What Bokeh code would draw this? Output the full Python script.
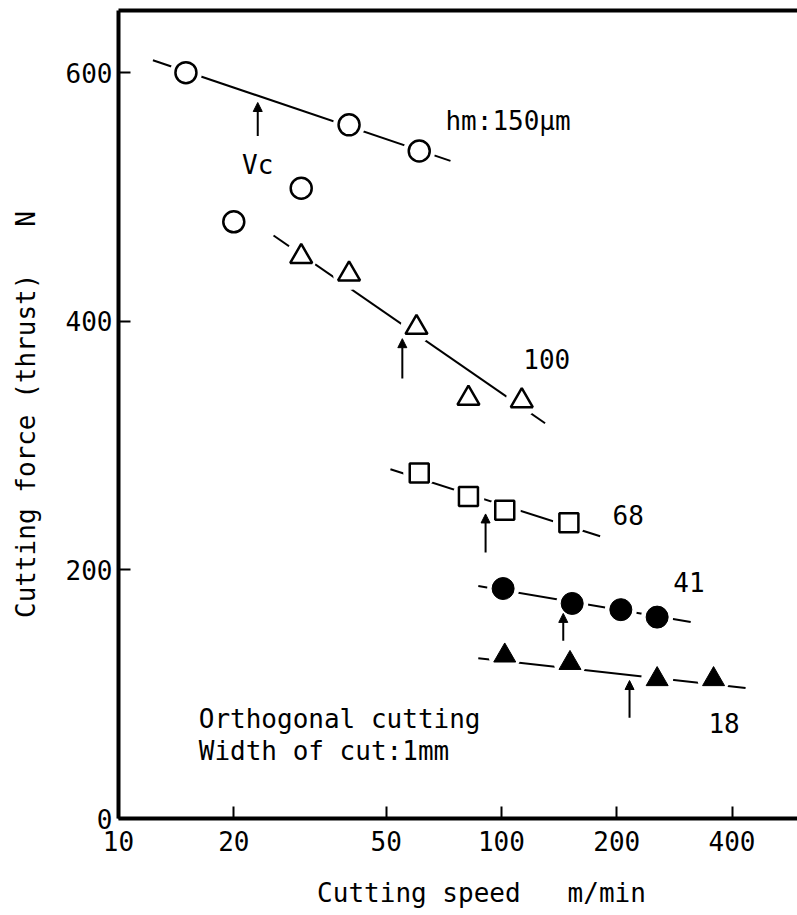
from bokeh.plotting import figure
from bokeh.models import (Range1d, FixedTicker, NumeralTickFormatter, LinearAxis,
                          ColumnDataSource, Arrow, NormalHead)
from bokeh.core.properties import value
from bokeh.embed import file_html
from bokeh.resources import INLINE

FONT = "DejaVu Sans Mono"
NB = "\u00a0"

# ---- data ----
hm150_speed = [15, 40, 61]
hm150_force = [600, 558, 537]
hm150_trans_speed = [20, 30]
hm150_trans_force = [480, 507]
hm100_speed = [30, 40, 60, 82, 113]
hm100_force = [452, 438, 395, 338, 336]
hm68_speed = [61, 82, 102, 150]
hm68_force = [278, 259, 248, 238]
hm41_speed = [101, 153, 205, 255]
hm41_force = [185, 173, 168, 162]
hm18_speed = [102, 151, 255, 358]
hm18_force = [131, 125, 112, 112]

# fitted trend lines (end points)
hm150_fit_speed = [12.3, 73.6]
hm150_fit_force = [610, 529]
hm100_fit_speed = [25.4, 130]
hm100_fit_force = [469, 318]
hm68_fit_speed = [51.3, 181]
hm68_fit_force = [281, 227]
hm41_fit_speed = [87, 312]
hm41_fit_force = [187, 158]
hm18_fit_speed = [87, 434]
hm18_fit_force = [129, 105]

# critical speed arrows
vc_speed = [23.1, 55.1, 90.9, 145, 216]
vc_tip = [576, 386, 245, 165, 111]
vc_tail = [549, 354, 214, 143, 81]

series_labels = ["hm:150µm", "100", "68", "41", "18"]
label_speed = [71.4, 114, 195, 281, 347]
label_force = [561, 370, 244, 190, 77]

note_lines = ["Orthogonal cutting", "Width of cut:1mm"]
note_speed = [16.2, 16.2]
note_force = [80, 54]

x_ticks = [10, 20, 50, 100, 200, 400]
y_ticks = [0, 200, 400, 600]

p = figure(width=797, height=915, x_axis_type="log",
           x_range=Range1d(10, 593), y_range=Range1d(0, 650),
           output_backend="svg", toolbar_location=None,
           min_border_left=118, min_border_right=0,
           min_border_top=10, min_border_bottom=97)
p.outline_line_color = None
p.grid.visible = False
p.background_fill_color = "white"
p.border_fill_color = "white"

# axes
for ax in (p.xaxis[0], p.yaxis[0]):
    ax.axis_line_width = 4
    ax.axis_line_color = "black"
    ax.major_tick_in = 12
    ax.major_tick_out = 0
    ax.major_tick_line_width = 2
    ax.minor_tick_line_color = None
    ax.major_label_text_font = FONT
    ax.major_label_text_font_size = "26px"
    ax.major_label_text_color = "black"
    ax.axis_label_text_font = FONT
    ax.axis_label_text_font_size = "26px"
    ax.axis_label_text_font_style = "normal"
    ax.axis_label_text_color = "black"

p.xaxis.ticker = FixedTicker(ticks=x_ticks)
p.xaxis.formatter = NumeralTickFormatter(format="0")
p.xaxis.major_label_standoff = 12
p.xaxis.axis_label = NB + " " + NB + "Cutting speed " + NB + " m/min"
p.xaxis.axis_label_standoff = 24
p.yaxis.ticker = FixedTicker(ticks=y_ticks)
p.yaxis.major_label_standoff = 6
p.yaxis.axis_label = "Cutting force (thrust) " + NB + " N"
p.yaxis.axis_label_standoff = 22

top = LinearAxis(ticker=FixedTicker(ticks=[]), axis_line_width=4,
                 major_tick_line_color=None, minor_tick_line_color=None,
                 major_label_text_font_size="0px")
p.add_layout(top, "above")

# trend lines
for xs, ys in [(hm150_fit_speed, hm150_fit_force), (hm100_fit_speed, hm100_fit_force),
               (hm68_fit_speed, hm68_fit_force), (hm41_fit_speed, hm41_fit_force),
               (hm18_fit_speed, hm18_fit_force)]:
    p.line(xs, ys, line_color="black", line_width=2)

# white halos to break lines around markers
for xs, ys in [(hm150_speed, hm150_force), (hm100_speed, hm100_force),
               (hm68_speed, hm68_force), (hm41_speed, hm41_force),
               (hm18_speed, hm18_force)]:
    p.scatter(xs, ys, marker="circle", size=32, fill_color="white", line_color=None)

# markers
p.scatter(hm150_speed, hm150_force, marker="circle", size=21,
          fill_color="white", line_color="black", line_width=2.5)
p.scatter(hm150_trans_speed, hm150_trans_force, marker="circle", size=21,
          fill_color="white", line_color="black", line_width=2.5)
p.scatter(hm100_speed, hm100_force, marker="triangle", size=22,
          fill_color="white", line_color="black", line_width=2.5)
p.scatter(hm68_speed, hm68_force, marker="square", size=19,
          fill_color="white", line_color="black", line_width=2.5)
p.scatter(hm41_speed, hm41_force, marker="circle", size=22,
          fill_color="black", line_color="black")
p.scatter(hm18_speed, hm18_force, marker="triangle", size=22,
          fill_color="black", line_color="black")

# critical speed arrows
arr_src = ColumnDataSource(dict(x=vc_speed, tip=vc_tip, tail=vc_tail))
p.add_layout(Arrow(end=NormalHead(size=9, fill_color="black", line_color="black"),
                   x_start="x", y_start="tail", x_end="x", y_end="tip",
                   source=arr_src, line_width=2, line_color="black"))

# texts
lab_src = ColumnDataSource(dict(x=label_speed, y=label_force, t=series_labels))
p.text(x="x", y="y", text="t", source=lab_src, text_font=value(FONT),
       text_font_size="26px", text_baseline="middle", text_align="left",
       text_color="black")
p.text(x=[vc_speed[0]], y=[526], text=["Vc"], text_font=value(FONT),
       text_font_size="26px", text_baseline="middle", text_align="center",
       text_color="black")
note_src = ColumnDataSource(dict(x=note_speed, y=note_force, t=note_lines))
p.text(x="x", y="y", text="t", source=note_src, text_font=value(FONT),
       text_font_size="26px", text_baseline="middle", text_align="left",
       text_color="black")

open("out.html", "w").write(file_html(p, INLINE))
